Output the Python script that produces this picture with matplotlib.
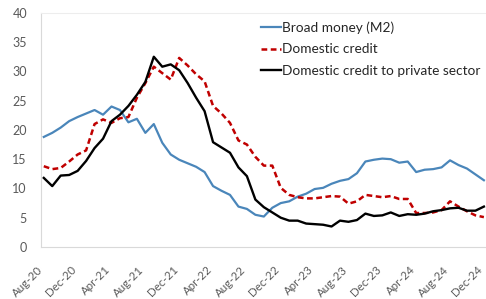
import matplotlib
matplotlib.use("Agg")
import matplotlib.pyplot as plt
from matplotlib.transforms import ScaledTranslation

plt.rcParams['font.family'] = ['Lato', 'DejaVu Sans']

# monthly, Aug-20 .. Dec-24
months = ["Aug-20", "Sep-20", "Oct-20", "Nov-20", "Dec-20", "Jan-21", "Feb-21", "Mar-21",
          "Apr-21", "May-21", "Jun-21", "Jul-21", "Aug-21", "Sep-21", "Oct-21", "Nov-21",
          "Dec-21", "Jan-22", "Feb-22", "Mar-22", "Apr-22", "May-22", "Jun-22", "Jul-22",
          "Aug-22", "Sep-22", "Oct-22", "Nov-22", "Dec-22", "Jan-23", "Feb-23", "Mar-23",
          "Apr-23", "May-23", "Jun-23", "Jul-23", "Aug-23", "Sep-23", "Oct-23", "Nov-23",
          "Dec-23", "Jan-24", "Feb-24", "Mar-24", "Apr-24", "May-24", "Jun-24", "Jul-24",
          "Aug-24", "Sep-24", "Oct-24", "Nov-24", "Dec-24"]

broad_money = [18.8, 19.5, 20.4, 21.5, 22.2, 22.8, 23.4, 22.6, 24.0, 23.4, 21.3, 21.9,
               19.5, 21.0, 17.8, 15.8, 14.9, 14.3, 13.7, 12.8, 10.4, 9.6, 8.9, 6.9,
               6.5, 5.5, 5.2, 6.7, 7.5, 7.8, 8.6, 9.1, 9.9, 10.1, 10.8, 11.3,
               11.6, 12.6, 14.6, 14.9, 15.1, 15.0, 14.4, 14.6, 12.8, 13.2, 13.3, 13.6,
               14.8, 14.0, 13.4, 12.4, 11.4]

domestic_credit = [13.8, 13.3, 13.5, 14.6, 15.8, 16.5, 21.0, 21.8, 21.2, 22.0, 22.2, 25.5,
                   28.0, 30.8, 29.7, 28.6, 32.3, 31.0, 29.5, 28.3, 24.1, 22.8, 21.2, 18.2,
                   17.5, 15.4, 13.9, 13.9, 10.1, 8.9, 8.5, 8.3, 8.3, 8.5, 8.7, 8.6,
                   7.4, 7.8, 8.9, 8.7, 8.5, 8.7, 8.2, 8.2, 5.8, 5.8, 5.9, 6.3,
                   7.8, 6.9, 6.1, 5.4, 5.1]

private_credit = [11.8, 10.4, 12.2, 12.3, 13.0, 14.7, 16.9, 18.5, 21.5, 22.6, 24.1, 26.0,
                  28.2, 32.5, 30.8, 31.2, 30.2, 28.0, 25.5, 23.2, 17.9, 17.0, 16.1, 13.6,
                  12.1, 8.1, 6.8, 5.9, 5.0, 4.5, 4.5, 4.0, 3.9, 3.8, 3.5, 4.5,
                  4.3, 4.6, 5.7, 5.3, 5.4, 5.9, 5.3, 5.6, 5.5, 5.7, 6.1, 6.3,
                  6.6, 6.7, 6.2, 6.2, 6.9]

x = list(range(len(months)))

fig = plt.figure(figsize=(4.86, 2.99), dpi=100)
ax = fig.add_axes([0.084, 0.174, 0.916, 0.783])

ax.plot(x, broad_money, color="#4A86BA", lw=1.6, label="Broad money (M2)")
ax.plot(x, domestic_credit, color="#C00000", lw=1.8, linestyle=(0, (2.3, 1.4)),
        label="Domestic credit")
ax.plot(x, private_credit, color="black", lw=1.7, label="Domestic credit to private sector")

ax.set_ylim(0, 40)
ax.set_yticks(range(0, 41, 5))
ax.set_xlim(-0.35, 52.25)
ax.set_xticks(x[::4])
ax.set_xticklabels(months[::4], rotation=45, ha="right", va="center", rotation_mode="anchor")

ax.tick_params(axis="y", length=0, pad=10, labelsize=9, labelcolor="#595959")
ax.tick_params(axis="x", length=0, pad=15, labelsize=8.3, labelcolor="#595959")

# pull the rotated labels slightly left so the last one stays inside the canvas
shift = ScaledTranslation(-3 / 100, 0, fig.dpi_scale_trans)
for lbl in ax.get_xticklabels():
    lbl.set_transform(lbl.get_transform() + shift)

for side in ["left", "bottom"]:
    ax.spines[side].set_color("#D9D9D9")
ax.spines["top"].set_color("#EDEDED")
ax.spines["right"].set_visible(False)

leg = ax.legend(loc="upper right", bbox_to_anchor=(1.005, 1.0), frameon=False, fontsize=9.8,
                handlelength=1.5, handletextpad=0.05, labelspacing=0.72, borderaxespad=0.2)
for t in leg.get_texts():
    t.set_color("#262626")

fig.savefig("out.png", dpi=100)
